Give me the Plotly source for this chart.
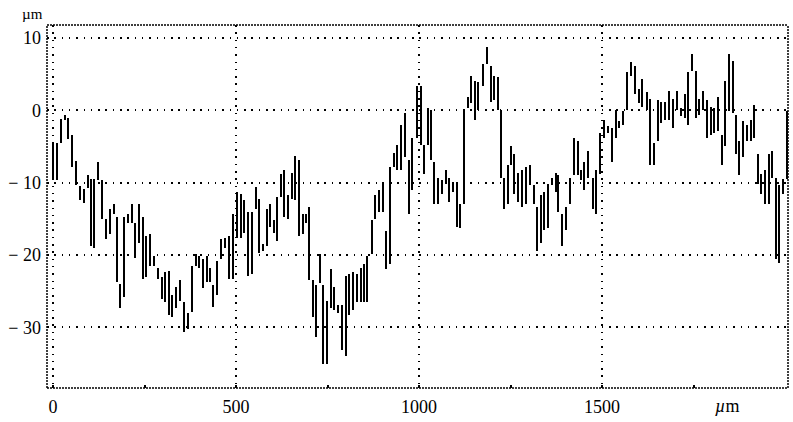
import plotly.graph_objects as go

# Surface profile: each sample position drawn as a vertical stroke spanning
# the lowest and highest height recorded within that step (µm).
positions = [
    0, 11, 22, 33, 41, 52, 63, 74, 85, 96, 104, 112, 123, 134, 145, 156, 167, 175, 183, 194,
    205, 216, 224, 235, 246, 254, 265, 276, 287, 298, 306, 317, 325, 336, 347, 358, 369, 380, 391, 399,
    410, 421, 429, 437, 448, 459, 470, 481, 492, 503, 514, 522, 533, 544, 555, 563, 574, 585, 593, 604,
    612, 623, 631, 642, 653, 661, 672, 683, 691, 699, 710, 719, 730, 738, 749, 760, 768, 779, 790, 801,
    809, 820, 831, 842, 850, 858, 872, 880, 891, 902, 910, 921, 932, 940, 951, 962, 973, 981, 995, 1005,
    1014, 1025, 1033, 1041, 1052, 1063, 1074, 1082, 1093, 1104, 1112, 1123, 1134, 1142, 1153, 1161, 1175, 1186, 1197, 1205,
    1216, 1224, 1232, 1243, 1251, 1260, 1270, 1281, 1292, 1303, 1314, 1322, 1333, 1342, 1352, 1363, 1374, 1380, 1391, 1402,
    1413, 1423, 1434, 1443, 1451, 1462, 1475, 1484, 1495, 1505, 1516, 1527, 1538, 1546, 1557, 1568, 1579, 1590, 1601, 1609,
    1623, 1631, 1642, 1653, 1661, 1672, 1683, 1694, 1705, 1716, 1727, 1735, 1746, 1757, 1765, 1776, 1787, 1798, 1806, 1817,
    1828, 1836, 1847, 1858, 1866, 1874, 1885, 1896, 1907, 1915, 1926, 1934, 1945, 1956, 1964, 1975, 1984, 1995, 2005,
]
height_max = [
    -4.5, -4.5, -1.2, -0.7, -1.1, -3.4, -7.0, -10.5, -10.9, -9.0, -9.5, -9.5, -7.2, -9.7, -15.0, -13.6, -13.0, -14.7, -24.0, -14.7,
    -14.3, -12.9, -15.6, -12.9, -14.7, -17.4, -17.1, -20.1, -21.8, -23.1, -22.4, -22.2, -25.6, -24.5, -23.5, -26.5, -28.0, -21.5, -19.9, -20.1,
    -20.5, -20.1, -21.8, -24.2, -20.8, -17.8, -17.7, -17.4, -14.4, -11.3, -11.6, -12.4, -14.0, -14.0, -10.6, -12.2, -18.5, -13.6, -13.0, -15.1,
    -12.0, -8.8, -8.2, -11.7, -8.6, -6.3, -6.8, -14.3, -14.3, -13.3, -23.5, -24.2, -19.9, -24.2, -26.3, -21.9, -24.5, -26.9, -26.9, -22.9,
    -22.6, -22.4, -22.6, -21.8, -21.2, -20.1, -15.1, -11.7, -11.0, -9.9, -16.7, -7.9, -5.9, -4.8, -2.0, -0.4, -6.8, -3.8, 3.3, 3.3,
    -4.8, 0.3, 0.0, -7.2, -9.3, -9.7, -8.2, -9.3, -9.9, -9.9, -13.0, 0.0, 1.9, 4.8, 4.1, 3.9, 6.4, 8.7, 6.1, 4.8,
    4.6, 0.0, -9.3, -7.6, -4.9, -6.1, -8.6, -8.2, -7.9, -7.5, -10.3, -13.3, -11.7, -11.3, -10.2, -9.3, -8.6, -9.0, -14.3, -13.3,
    -9.3, -3.8, -4.2, -8.3, -7.2, -5.6, -9.3, -8.3, -3.1, -1.4, -2.2, -2.4, 0.0, -1.5, -0.1, 5.3, 6.7, 6.1, 3.0, 4.4,
    2.6, 1.6, -4.5, 1.4, 1.2, 1.2, 2.7, 1.6, 2.7, 0.3, 2.3, 5.3, 7.8, 5.4, 1.6, 2.7, 1.4, 0.5, 0.3, 1.9,
    -3.4, 4.1, 7.8, 6.8, -0.7, -4.2, -1.5, -2.0, -1.4, 0.7, -6.1, -8.8, -8.2, -6.1, -5.6, -9.3, -10.3, -9.5, -0.1,
]
height_min = [
    -9.5, -9.7, -4.5, -1.4, -4.0, -7.9, -10.3, -12.4, -12.8, -10.7, -18.8, -19.0, -9.7, -15.0, -17.8, -17.1, -14.3, -23.8, -27.3, -25.8,
    -15.6, -15.6, -20.4, -18.4, -23.3, -23.1, -21.5, -21.5, -23.3, -26.1, -26.5, -28.3, -28.6, -27.3, -26.3, -30.7, -30.3, -27.9, -21.5, -21.8,
    -24.6, -23.8, -23.8, -27.2, -25.6, -20.5, -19.0, -23.3, -23.3, -17.7, -17.7, -17.0, -22.9, -22.6, -13.7, -19.7, -19.5, -18.8, -16.1, -17.0,
    -18.1, -12.0, -14.7, -15.0, -12.2, -12.4, -17.4, -17.1, -15.6, -23.5, -28.6, -31.4, -23.9, -35.1, -35.1, -27.3, -27.6, -28.0, -33.1, -34.0,
    -28.3, -27.6, -26.5, -26.5, -26.5, -26.5, -19.9, -15.0, -14.0, -14.0, -21.9, -21.2, -7.9, -8.2, -8.3, -6.5, -14.3, -11.0, -3.8, -4.8,
    -8.8, -4.8, -6.9, -12.9, -13.0, -11.6, -10.2, -12.7, -11.3, -16.1, -16.3, -12.9, 0.3, 1.0, -1.4, 0.0, 3.3, 6.4, 1.2, 1.4,
    0.0, -9.3, -13.6, -12.9, -7.6, -11.6, -12.7, -13.3, -12.9, -10.3, -13.0, -19.5, -18.4, -16.5, -16.3, -10.3, -11.3, -14.0, -18.8, -16.5,
    -13.0, -9.0, -9.0, -9.7, -11.0, -9.3, -13.6, -14.4, -8.8, -3.8, -3.1, -7.2, -3.8, -2.4, -2.0, 0.0, 4.8, 2.3, 1.0, 0.5,
    0.0, -7.5, -7.6, -4.2, -1.8, -1.4, -1.4, -2.4, 0.0, -0.8, -1.1, -2.0, 5.4, -1.1, -0.7, 0.0, -3.8, -3.4, -3.1, -2.9,
    -7.5, -4.9, -0.1, -0.4, -6.1, -9.0, -6.5, -4.2, -4.2, -3.8, -10.2, -11.6, -12.9, -12.9, -9.3, -20.5, -21.1, -11.6, -9.5,
]

x_ticks = [0, 500, 1000, 1500]
x_tick_text = ["0", "500", "1000", "1500"]
x_minor_ticks = [250, 750, 1250, 1750]
y_ticks = [10, 0, -10, -20, -30]
y_tick_text = ["10", "0", "−\u00a010", "−\u00a020", "−\u00a030"]

serif = "Liberation Serif"

fig = go.Figure(
    go.Bar(
        x=positions,
        y=[hi - lo for hi, lo in zip(height_max, height_min)],
        base=height_min,
        width=6.5,
        marker=dict(color="black", line=dict(width=0)),
        hoverinfo="skip",
    )
)

grid = dict(
    showgrid=True,
    gridcolor="black",
    gridwidth=1.5,
    griddash="1.5px,5.8px",
    zeroline=False,
    showline=False,
)

fig.update_xaxes(
    range=[-16.4, 2008],
    tickvals=x_ticks,
    ticktext=x_tick_text,
    ticks="inside",
    ticklen=3,
    tickwidth=1.5,
    tickcolor="black",
    minor=dict(tickvals=x_minor_ticks, ticks="inside", ticklen=3, tickwidth=1.5,
               tickcolor="black", showgrid=False),
    tickfont=dict(family=serif, size=18, color="black"),
    ticklabelstandoff=6,
    **grid,
)
fig.update_yaxes(
    range=[-38.4, 11.8],
    tickvals=y_ticks,
    ticktext=y_tick_text,
    ticks="",
    tickfont=dict(family=serif, size=18, color="black"),
    ticklabelstandoff=5,
    **grid,
)

# Dotted frame around the plotting area
frame = dict(color="black", width=1.5, dash="2px,1px")
for x0, y0, x1, y1 in [(0, 0, 1, 0), (0, 1, 1, 1), (0, 0, 0, 1), (1, 0, 1, 1)]:
    fig.add_shape(type="line", xref="paper", yref="paper",
                  x0=x0, y0=y0, x1=x1, y1=y1, line=frame, layer="above")

# Unit labels for both axes
fig.add_annotation(text="µm", xref="paper", yref="paper", x=-0.02, y=1.0,
                   xanchor="center", yanchor="bottom", yshift=1, showarrow=False,
                   font=dict(family=serif, size=15, color="black"))
fig.add_annotation(text="<i>µ</i>m", x=1841, xref="x", yref="paper", y=0,
                   xanchor="center", yanchor="top", yshift=-6, showarrow=False,
                   font=dict(family=serif, size=18, color="black"))

fig.update_layout(
    width=793,
    height=422,
    margin=dict(l=47, r=5, t=25, b=28),
    paper_bgcolor="white",
    plot_bgcolor="white",
    showlegend=False,
    bargap=0,
    font=dict(family=serif, color="black"),
)

fig.write_html("out.html")
